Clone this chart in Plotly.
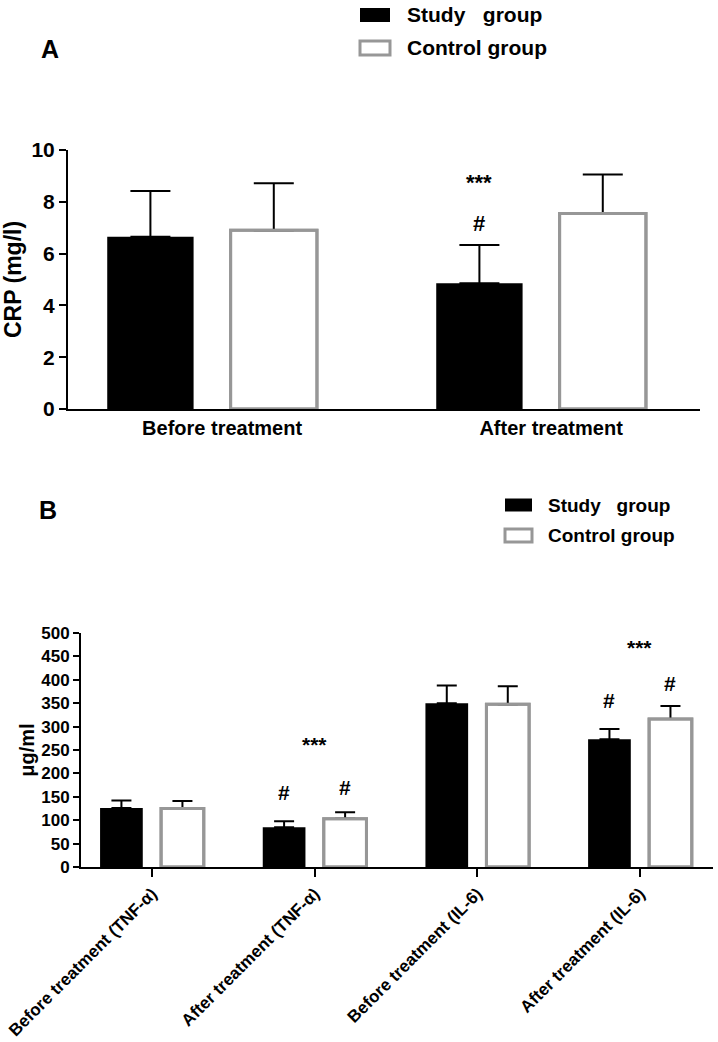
import plotly.graph_objects as go

# ---------------- data ----------------
cats_a = ["Before treatment", "After treatment"]
crp_study = [6.65, 4.86]
crp_study_err = [1.77, 1.47]
crp_control = [6.9, 7.55]
crp_control_err = [1.82, 1.5]

cats_b = ["Before treatment (TNF-α)", "After treatment (TNF-α)",
          "Before treatment (IL-6)", "After treatment (IL-6)"]
b_study = [126, 85, 350, 273]
b_study_err = [16, 13, 38, 22]
b_control = [125, 103, 348, 316]
b_control_err = [16, 14, 38, 28]

# significance marks: (category index, group, y value, text)
marks_a = [(1, "study", 7.18, "#"), (1, "study", 8.73, "***")]
marks_b = [(1, "study", 160, "#"), (1, "control", 170, "#"), (1, "center", 262, "***"),
           (3, "study", 355, "#"), (3, "control", 392, "#"), (3, "center", 470, "***")]

FONT = "Liberation Sans"
GRAY = "#979797"
W, H = 718, 1042
BARGAP = 0.25
BARGROUPGAP = 0.3
OFF = (1 - BARGAP) / 4

fig = go.Figure()

def add_panel(cats, s, se, c, ce, xa, ya, cap):
    x = list(range(len(cats)))
    fig.add_trace(go.Bar(x=x, y=s, xaxis=xa, yaxis=ya, offsetgroup="s",
                         marker=dict(color="black", line=dict(color="black", width=0)),
                         error_y=dict(type="data", array=se, arrayminus=[0]*len(se), symmetric=False,
                                      color="black", thickness=2, width=cap),
                         showlegend=False))
    fig.add_trace(go.Bar(x=x, y=c, xaxis=xa, yaxis=ya, offsetgroup="c",
                         marker=dict(color="white", line=dict(color=GRAY, width=3)),
                         error_y=dict(type="data", array=ce, arrayminus=[0]*len(ce), symmetric=False,
                                      color="black", thickness=2, width=cap),
                         showlegend=False))
    # outline overlay so the error-bar foot is hidden under the grey border
    fig.add_trace(go.Bar(x=x, y=c, xaxis=xa, yaxis=ya, offsetgroup="c",
                         marker=dict(color="rgba(0,0,0,0)", line=dict(color=GRAY, width=3)),
                         showlegend=False, hoverinfo="skip"))

add_panel(cats_a, crp_study, crp_study_err, crp_control, crp_control_err, "x", "y", 20)
add_panel(cats_b, b_study, b_study_err, b_control, b_control_err, "x2", "y2", 10)

ann = []
def add_marks(marks, xref, yref, size):
    for i, g, yv, t in marks:
        dx = {"study": -OFF, "control": OFF, "center": 0}[g]
        ann.append(dict(x=i + dx, y=yv, xref=xref, yref=yref, text=t, showarrow=False,
                        xanchor="center", yanchor="middle",
                        font=dict(family=FONT, size=size, color="black", weight="bold")))

add_marks(marks_a, "x", "y", 22)
add_marks(marks_b, "x2", "y2", 21)

# panel letters
for letter, lx, ly in [("A", 50, 49), ("B", 48, 510)]:
    ann.append(dict(x=lx / W, y=1 - ly / H, xref="paper", yref="paper", text=letter,
                    showarrow=False, xanchor="center", yanchor="middle",
                    font=dict(family=FONT, size=25, color="black", weight="bold")))

# legends (drawn as swatches + text)
shapes = []
def legend(x0, x1, rows, tx, size):
    for (yc, hh, fill, line, label) in rows:
        shapes.append(dict(type="rect", xref="paper", yref="paper",
                           x0=x0 / W, x1=x1 / W, y0=1 - (yc + hh) / H, y1=1 - (yc - hh) / H,
                           fillcolor=fill, line=dict(color=line, width=3 if line != fill else 0)))
        ann.append(dict(x=tx / W, y=1 - yc / H, xref="paper", yref="paper", text=label,
                        showarrow=False, xanchor="left", yanchor="middle",
                        font=dict(family=FONT, size=size, color="black", weight="bold")))

legend(360, 390, [(15, 7, "black", "black", "Study\u00a0\u00a0\u00a0group"),
                  (48, 7, "white", GRAY, "Control group")], 405, 21)
legend(505, 532, [(505, 6.5, "black", "black", "Study\u00a0\u00a0\u00a0group"),
                  (535.5, 6.5, "white", GRAY, "Control group")], 546, 19)

axis_common = dict(showline=True, linecolor="black", linewidth=2, showgrid=False, zeroline=False,
                   tickcolor="black", tickwidth=2, automargin=False)

fig.update_layout(
    template="none",
    width=W, height=H, margin=dict(l=0, r=0, t=0, b=0, autoexpand=False),
    paper_bgcolor="white", plot_bgcolor="white",
    barmode="group", bargap=BARGAP, bargroupgap=BARGROUPGAP,
    font=dict(family=FONT, color="black"),
    xaxis=dict(domain=[68 / W, 700 / W], anchor="y", range=[-0.438, 1.483],
               tickvals=list(range(len(cats_a))), ticktext=cats_a, ticks="",
               ticklabelshift=10,
               tickfont=dict(family=FONT, size=20, weight="bold"), **axis_common),
    yaxis=dict(domain=[1 - 409 / H, 1 - 150 / H], anchor="x", range=[0, 10], dtick=2,
               ticks="outside", ticklen=7,
               tickfont=dict(family=FONT, size=21, weight="bold"),
               title=dict(text="CRP (mg/l)", standoff=4,
                          font=dict(family=FONT, size=23, weight="bold")),
               **axis_common),
    xaxis2=dict(domain=[81 / W, 713 / W], anchor="y2", range=[-0.436, 3.449],
                tickvals=list(range(len(cats_b))), ticktext=cats_b, ticks="outside", ticklen=8,
                tickangle=-45, tickfont=dict(family=FONT, size=17, weight="bold"), **axis_common),
    yaxis2=dict(domain=[1 - 867 / H, 1 - 633 / H], anchor="x2", range=[0, 500], dtick=50,
                ticks="outside", ticklen=6,
                tickfont=dict(family=FONT, size=17, weight="bold"),
                title=dict(text="μg/ml", standoff=1,
                           font=dict(family=FONT, size=20, weight="bold")),
                **axis_common),
    annotations=ann, shapes=shapes,
)

fig.write_html("out.html", config={"displayModeBar": False},
               post_script="document.body.style.margin='0';")
